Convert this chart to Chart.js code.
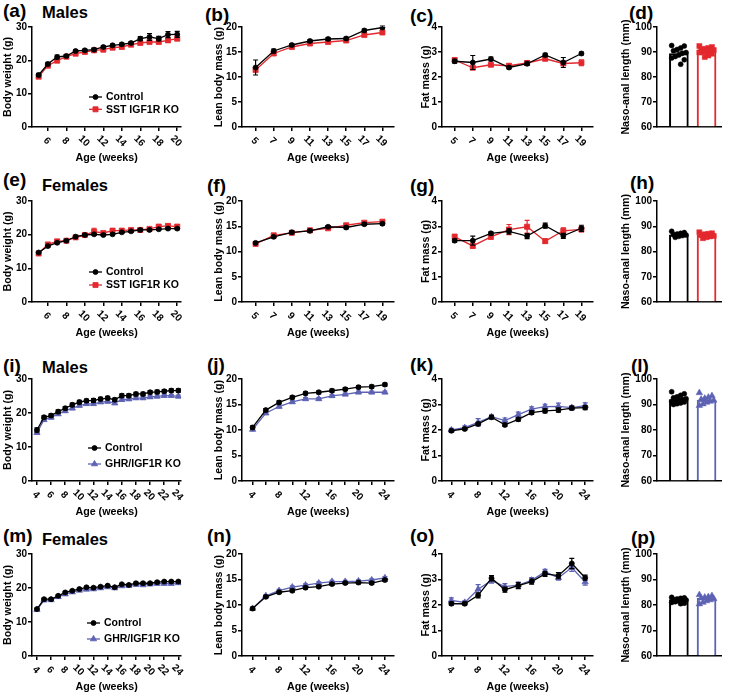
<!DOCTYPE html>
<html>
<head>
<meta charset="utf-8">
<script src="https://cdn.jsdelivr.net/npm/chart.js@4.4.1/dist/chart.umd.min.js"></script>
<style>
  body { margin: 0; background: #fff; width: 729px; height: 692px; position: relative; overflow: hidden;
         font-family: "Liberation Sans", Arial, sans-serif; }
  canvas { position: absolute; }
  .lbl { position: absolute; font-weight: bold; font-size: 19px; line-height: 1; color: #000; }
  .sex { position: absolute; font-weight: bold; font-size: 16.5px; line-height: 1; color: #000; }
</style>
</head>
<body>
<div class="lbl" style="left:3px;top:1px">(a)</div>
<div class="sex" style="left:42px;top:4px">Males</div>
<div class="lbl" style="left:205px;top:5px">(b)</div>
<div class="lbl" style="left:410px;top:6px">(c)</div>
<div class="lbl" style="left:629px;top:3px">(d)</div>

<div class="lbl" style="left:3px;top:170px">(e)</div>
<div class="sex" style="left:42px;top:177px">Females</div>
<div class="lbl" style="left:207px;top:176px">(f)</div>
<div class="lbl" style="left:410px;top:176px">(g)</div>
<div class="lbl" style="left:630px;top:173px">(h)</div>

<div class="lbl" style="left:3px;top:356px">(i)</div>
<div class="sex" style="left:42px;top:359px">Males</div>
<div class="lbl" style="left:207px;top:355px">(j)</div>
<div class="lbl" style="left:410px;top:355px">(k)</div>
<div class="lbl" style="left:631px;top:356px">(l)</div>

<div class="lbl" style="left:3px;top:526px">(m)</div>
<div class="sex" style="left:42px;top:531px">Females</div>
<div class="lbl" style="left:207px;top:526px">(n)</div>
<div class="lbl" style="left:410px;top:526px">(o)</div>
<div class="lbl" style="left:631px;top:528px">(p)</div>

<script>
// weeks
const wk1 = [5, 6, 7, 8, 9, 10, 11, 12, 13, 14, 15, 16, 17, 18, 19, 20];
const wkC1 = [5, 7, 9, 11, 13, 15, 17, 19];
const wk2 = [4, 5, 6, 7, 8, 9, 10, 11, 12, 13, 14, 15, 16, 17, 18, 19, 20, 21, 22, 23, 24];
const wkC2 = [4, 6, 8, 10, 12, 14, 16, 18, 20, 22, 24];

// (a) males body weight, SST IGF1R
const aCtrl = [15.6, 18.9, 21.0, 21.3, 22.8, 23.0, 23.2, 24.0, 24.5, 24.8, 25.2, 26.5, 27.0, 26.5, 27.7, 27.8];
const aKO = [15.1, 18.4, 19.9, 21.1, 22.0, 22.5, 23.0, 23.2, 23.8, 24.0, 24.7, 25.2, 25.5, 25.5, 26.0, 26.5];
const aCtrlSem = [0.5, 0.5, 0.6, 0.4, 0.4, 0.4, 0.4, 0.4, 0.4, 0.4, 0.4, 0.6, 1.0, 0.7, 0.9, 0.9];
const aKOSem = [0.4, 0.4, 0.4, 0.3, 0.3, 0.3, 0.3, 0.3, 0.3, 0.3, 0.3, 0.4, 0.4, 0.4, 0.5, 0.5];
// (b) lean
const bCtrl = [11.9, 15.2, 16.4, 17.2, 17.6, 17.7, 19.3, 19.9];
const bKO = [11.4, 14.7, 16.0, 16.7, 17.0, 17.3, 18.4, 18.9];
const bCtrlSem = [1.5, 0.4, 0.3, 0.3, 0.3, 0.3, 0.3, 0.3];
const bKOSem = [0.3, 0.3, 0.2, 0.2, 0.2, 0.2, 0.3, 0.3];
// (c) fat
const cCtrl = [2.63, 2.58, 2.72, 2.38, 2.53, 2.88, 2.58, 2.94];
const cKO = [2.68, 2.37, 2.49, 2.45, 2.56, 2.73, 2.54, 2.57];
const cCtrlSem = [0.08, 0.28, 0.08, 0.06, 0.07, 0.07, 0.2, 0.06];
const cKOSem = [0.07, 0.06, 0.06, 0.08, 0.1, 0.08, 0.08, 0.12];
// (d) naso-anal
const dCtrl = [92.6, 92.4, 91.6, 91.0, 90.5, 89.8, 89.5, 88.8, 88.2, 87.6, 86.9, 85.1];
const dKO = [92.4, 92.0, 91.6, 91.3, 91.0, 90.8, 90.6, 90.3, 90.0, 89.8, 89.3, 88.6, 88.0];
const dMean = [89.4, 90.7];
const dSem = [0.6, 0.4];

// (e) females body weight
const eCtrl = [14.7, 16.6, 17.6, 18.2, 19.4, 19.9, 20.1, 19.9, 20.1, 20.7, 21.0, 21.4, 21.4, 21.6, 21.8, 21.8];
const eKO = [14.4, 17.1, 18.0, 18.2, 19.2, 19.9, 20.9, 20.5, 21.2, 21.2, 21.4, 21.4, 21.7, 22.4, 22.6, 22.4];
const eCtrlSem = [0.3, 0.3, 0.3, 0.3, 0.3, 0.3, 0.3, 0.3, 0.3, 0.3, 0.3, 0.3, 0.3, 0.3, 0.3, 0.3];
const eKOSem = [0.3, 0.4, 0.5, 0.3, 0.3, 0.4, 1.0, 0.5, 0.6, 0.5, 0.4, 0.3, 0.4, 0.5, 0.5, 0.5];
// (f)
const fCtrl = [11.7, 12.9, 13.8, 14.1, 14.9, 14.75, 15.4, 15.5];
const fKO = [11.5, 13.2, 13.7, 14.2, 14.6, 15.2, 15.7, 15.9];
const fCtrlSem = [0.25, 0.25, 0.25, 0.25, 0.25, 0.25, 0.25, 0.25];
const fKOSem = [0.25, 0.3, 0.25, 0.25, 0.25, 0.25, 0.25, 0.25];
// (g)
const gCtrl = [2.43, 2.43, 2.72, 2.8, 2.61, 3.02, 2.62, 2.92];
const gKO = [2.58, 2.22, 2.58, 2.87, 2.98, 2.41, 2.82, 2.88];
const gCtrlSem = [0.06, 0.18, 0.06, 0.1, 0.1, 0.1, 0.1, 0.12];
const gKOSem = [0.1, 0.08, 0.08, 0.2, 0.25, 0.08, 0.12, 0.1];
// (h)
const hCtrl = [88.0, 87.5, 87.2, 86.9, 86.7, 86.5, 86.3, 86.0, 85.6];
const hKO = [87.6, 87.2, 87.0, 86.8, 86.5, 86.2, 86.0, 85.7, 85.3];
const hMean = [86.6, 86.5];
const hSem = [0.3, 0.3];

// (i) males body weight, GHR/IGF1R
const iCtrl = [15.0, 18.75, 19.25, 20.4, 21.4, 22.4, 23.2, 23.6, 23.7, 24.1, 24.4, 23.9, 25.1, 25.1, 25.6, 25.6, 26.1, 26.2, 26.4, 26.6, 26.6];
const iKO = [14.2, 18.0, 18.7, 19.7, 20.6, 21.4, 22.2, 22.7, 22.7, 23.2, 23.4, 22.9, 23.9, 24.1, 24.4, 24.4, 24.7, 24.9, 25.1, 25.1, 24.9];
const iCtrlSem = [0.6, 0.5, 0.5, 0.5, 0.5, 0.5, 0.5, 0.5, 0.5, 0.5, 0.5, 0.5, 0.5, 0.5, 0.5, 0.5, 0.5, 0.5, 0.5, 0.5, 0.5];
const iKOSem = [0.4, 0.4, 0.4, 0.4, 0.4, 0.4, 0.4, 0.4, 0.4, 0.4, 0.4, 0.4, 0.4, 0.4, 0.4, 0.4, 0.4, 0.4, 0.4, 0.4, 0.4];
// (j)
const jCtrl = [10.5, 13.9, 15.4, 16.4, 17.2, 17.4, 17.7, 18.0, 18.4, 18.5, 18.9];
const jKO = [10.1, 13.3, 14.6, 15.5, 16.1, 16.1, 16.7, 17.0, 17.4, 17.4, 17.4];
const jCtrlSem = [0.3, 0.3, 0.3, 0.3, 0.3, 0.3, 0.3, 0.3, 0.3, 0.3, 0.3];
const jKOSem = [0.25, 0.25, 0.25, 0.25, 0.25, 0.25, 0.25, 0.25, 0.25, 0.25, 0.25];
// (k)
const kCtrl = [1.97, 2.04, 2.24, 2.5, 2.2, 2.42, 2.68, 2.75, 2.78, 2.86, 2.88];
const kKO = [2.0, 2.09, 2.3, 2.52, 2.37, 2.6, 2.82, 2.92, 2.93, 2.88, 2.96];
const kCtrlSem = [0.05, 0.05, 0.06, 0.06, 0.06, 0.07, 0.07, 0.08, 0.08, 0.07, 0.08];
const kKOSem = [0.06, 0.07, 0.15, 0.07, 0.1, 0.1, 0.09, 0.09, 0.12, 0.08, 0.1];
// (l)
const lCtrl = [95.0, 94.2, 93.6, 93.0, 92.6, 92.3, 92.0, 91.8, 91.5, 91.2, 91.0, 90.6, 90.3, 90.0];
const lKO = [94.6, 93.4, 92.8, 92.4, 92.0, 91.6, 91.2, 90.8, 90.2, 89.6];
const lMean = [91.9, 91.7];
const lSem = [0.4, 0.5];

// (m) females body weight
const mCtrl = [13.8, 16.7, 16.7, 17.7, 18.7, 19.2, 19.7, 20.2, 20.1, 20.4, 20.7, 20.2, 21.1, 20.9, 21.4, 21.4, 21.4, 21.7, 21.9, 21.9, 21.9];
const mKO = [13.6, 16.4, 16.5, 17.4, 18.2, 18.8, 19.3, 19.6, 19.7, 20.0, 20.3, 20.0, 20.6, 20.7, 21.0, 20.9, 21.1, 21.3, 21.3, 21.3, 21.5];
const mCtrlSem = [0.3, 0.3, 0.3, 0.3, 0.3, 0.3, 0.3, 0.3, 0.3, 0.3, 0.3, 0.3, 0.3, 0.3, 0.3, 0.3, 0.3, 0.3, 0.3, 0.3, 0.3];
const mKOSem = [0.3, 0.3, 0.3, 0.3, 0.3, 0.3, 0.3, 0.3, 0.3, 0.3, 0.3, 0.3, 0.3, 0.3, 0.3, 0.3, 0.3, 0.3, 0.3, 0.3, 0.3];
// (n)
const nCtrl = [9.3, 11.6, 12.5, 12.8, 13.4, 13.6, 14.1, 14.3, 14.4, 14.3, 14.9];
const nKO = [9.3, 11.8, 12.8, 13.5, 13.9, 14.3, 14.6, 14.6, 14.7, 14.9, 15.3];
const nCtrlSem = [0.25, 0.25, 0.25, 0.25, 0.25, 0.25, 0.25, 0.25, 0.25, 0.25, 0.25];
const nKOSem = [0.25, 0.25, 0.25, 0.25, 0.25, 0.25, 0.25, 0.25, 0.25, 0.25, 0.25];
// (o)
const oCtrl = [2.05, 2.05, 2.38, 3.05, 2.6, 2.76, 2.92, 3.22, 3.15, 3.63, 3.07];
const oKO = [2.18, 2.1, 2.62, 2.96, 2.72, 2.78, 2.97, 3.3, 3.07, 3.47, 2.9];
const oCtrlSem = [0.06, 0.06, 0.1, 0.1, 0.1, 0.12, 0.1, 0.1, 0.12, 0.2, 0.1];
const oKOSem = [0.1, 0.06, 0.18, 0.1, 0.12, 0.12, 0.1, 0.1, 0.1, 0.15, 0.12];
// (p)
const pCtrl = [83.0, 82.8, 82.6, 82.4, 82.2, 82.0, 81.8, 81.6, 81.3, 81.0, 80.7, 80.5];
const pKO = [84.0, 83.6, 83.2, 83.0, 82.7, 82.4, 82.0, 81.6, 81.0, 80.4];
const pMean = [82.1, 82.6];
const pSem = [0.2, 0.3];

const xTicks1 = [6, 8, 10, 12, 14, 16, 18, 20];
const xTicksC1 = [5, 7, 9, 11, 13, 15, 17, 19];
const xTicks2 = [4, 6, 8, 10, 12, 14, 16, 18, 20, 22, 24];
const xLabelsC2 = [4, 8, 12, 16, 20, 24];

const FONT = '"Liberation Sans", Arial, sans-serif';
const RED = '#e3292e';
const BLUE = '#5d62b3';
const STY = {
  ctrl: { color: '#000', pointStyle: 'circle', radius: 2.5, dotR: 2.5 },
  sst: { color: RED, pointStyle: 'rect', radius: 3.6, dotR: 3.6 },
  ghr: { color: BLUE, pointStyle: 'triangle', radius: 3.6, dotR: 3.8 }
};

Chart.defaults.font.family = FONT;
Chart.defaults.font.weight = 'bold';
Chart.defaults.color = '#000';

// error bars (mean +/- sem) drawn from each dataset's sem array
const errBars = {
  id: 'errBars',
  afterDatasetDraw(chart, args) {
    const ds = chart.data.datasets[args.index];
    if (!ds.sem) return;
    const ctx = chart.ctx, ys = chart.scales.y;
    ctx.save();
    ctx.lineWidth = 1.2;
    args.meta.data.forEach((el, j) => {
      const v = ds.data[j].y, e = ds.sem[j];
      const top = ys.getPixelForValue(v + e), bot = ys.getPixelForValue(v - e);
      const cw = ds.capW || 2.5;
      ctx.strokeStyle = Array.isArray(ds.borderColor) ? ds.borderColor[j] : ds.borderColor;
      ctx.beginPath();
      ctx.moveTo(el.x, top); ctx.lineTo(el.x, bot);
      ctx.moveTo(el.x - cw, top); ctx.lineTo(el.x + cw, top);
      ctx.moveTo(el.x - cw, bot); ctx.lineTo(el.x + cw, bot);
      ctx.stroke();
    });
    ctx.restore();
  }
};

// x tick labels turned 45 degrees clockwise, like the original
const rotTicks = {
  id: 'rotTicks',
  afterDraw(chart, args, o) {
    if (!o.labels) return;
    const ctx = chart.ctx, s = chart.scales.x;
    ctx.save();
    ctx.font = 'bold 10px ' + FONT;
    ctx.fillStyle = '#000';
    ctx.textAlign = 'center';
    ctx.textBaseline = 'middle';
    o.labels.forEach(v => {
      ctx.save();
      ctx.translate(s.getPixelForValue(v) - 1, chart.chartArea.bottom + 14);
      ctx.rotate(Math.PI / 4);
      ctx.fillText(String(v), 0, 0);
      ctx.restore();
    });
    ctx.restore();
  }
};

// legend drawn inside the plot area
const inLegend = {
  id: 'inLegend',
  afterDraw(chart, args, o) {
    if (!o || o.x === undefined) return;
    const ctx = chart.ctx, a = chart.chartArea;
    chart.data.datasets.forEach((ds, i) => {
      const x = a.left + o.x, y = a.top + o.y + i * o.dy;
      ctx.save();
      ctx.strokeStyle = ds.borderColor;
      ctx.fillStyle = ds.borderColor;
      ctx.lineWidth = 1.3;
      ctx.beginPath(); ctx.moveTo(x, y); ctx.lineTo(x + 13, y); ctx.stroke();
      ctx.lineWidth = 0.8;
      Chart.helpers.drawPoint(ctx, { pointStyle: ds.pointStyle, radius: ds.pointRadius, rotation: 0, borderWidth: 0.8 }, x + 6.5, y);
      ctx.fillStyle = '#000';
      ctx.font = 'bold 10.5px ' + FONT;
      ctx.textAlign = 'left';
      ctx.textBaseline = 'middle';
      ctx.fillText(ds.label, x + 17, y + 0.5);
      ctx.restore();
    });
  }
};

function place(l, t, w, h) {
  const c = document.createElement('canvas');
  c.width = w; c.height = h;
  c.style.left = l + 'px';
  c.style.top = t + 'px';
  document.body.appendChild(c);
  return c;
}

const axisLine = { color: '#000', width: 1.5 };
const tickMarks = { drawOnChartArea: false, tickLength: 4, color: '#000', lineWidth: 1.5 };

function yAxis(title, min, max, step, wy, size) {
  return {
    min, max,
    ticks: { stepSize: step, font: { size: 10 }, padding: 1, color: '#000' },
    grid: tickMarks,
    border: axisLine,
    title: { display: true, text: title, font: { size: size || 10.7 }, padding: 0, color: '#000' },
    afterFit: s => { s.width = wy; }
  };
}

function linePanel(p) {
  const PT = 8, PR = 4, HX = 40;
  const c = place(p.l - p.wy, p.t - PT, p.wy + (p.r - p.l) + PR, PT + (p.b - p.t) + HX);
  new Chart(c, {
    type: 'line',
    data: {
      datasets: p.series.map(s => ({
        label: s.label,
        data: p.weeks.map((w, i) => ({ x: w, y: s.y[i] })),
        sem: s.sem,
        borderColor: s.sty.color,
        backgroundColor: s.sty.color,
        pointBackgroundColor: s.sty.color,
        pointBorderColor: s.sty.color,
        pointStyle: s.sty.pointStyle,
        pointRadius: s.sty.radius,
        pointBorderWidth: 0.8,
        borderWidth: 1.3,
        tension: 0
      }))
    },
    options: {
      responsive: false, animation: false, devicePixelRatio: 1,
      layout: { padding: { top: PT, right: PR, left: 0, bottom: 0 } },
      plugins: {
        legend: { display: false }, tooltip: { enabled: false },
        rotTicks: { labels: p.xLabels },
        inLegend: p.legend || false
      },
      scales: {
        x: {
          type: 'linear', min: p.xMin, max: p.xMax,
          afterBuildTicks: s => { s.ticks = p.xTicks.map(v => ({ value: v })); },
          ticks: { display: false },
          grid: tickMarks,
          border: axisLine,
          title: { display: true, text: 'Age (weeks)', font: { size: 10.7 }, padding: { top: 0, bottom: 3 }, color: '#000' },
          afterFit: s => { s.height = HX; }
        },
        y: yAxis(p.yTitle, p.yMin, p.yMax, p.yStep, p.wy)
      }
    },
    plugins: [errBars, rotTicks, inLegend]
  });
}

function barPanel(p) {
  const PT = 8, PR = 4, HX = 12;
  const c = place(p.l - p.wy, p.t - PT, p.wy + (p.r - p.l) + PR, PT + (p.b - p.t) + HX);
  const groups = [p.ctrl, p.ko];
  const dots = groups.map((g, gi) => ({
    type: 'scatter',
    data: g.vals.map((v, i) => ({ x: gi + 1 + (((i * 7) % 9) - 4) * 0.065, y: v })),
    pointStyle: g.sty.pointStyle,
    pointRadius: g.sty.dotR,
    backgroundColor: g.sty.color,
    borderColor: g.sty.color,
    pointBorderWidth: 0.5
  }));
  const bars = {
    type: 'bar',
    data: p.mean.map((m, i) => ({ x: i + 1, y: m })),
    sem: p.sem,
    capW: 4,
    backgroundColor: '#fff',
    borderColor: groups.map(g => g.sty.color),
    borderWidth: 2,
    barThickness: 19,
    base: 60,
    grouped: false
  };
  new Chart(c, {
    type: 'bar',
    data: { datasets: [...dots, bars] },
    options: {
      responsive: false, animation: false, devicePixelRatio: 1,
      layout: { padding: { top: PT, right: PR, left: 0, bottom: 0 } },
      plugins: { legend: { display: false }, tooltip: { enabled: false } },
      scales: {
        x: {
          type: 'linear', min: 0.21, max: 2.54, offset: false, bounds: 'ticks',
          ticks: { display: false },
          grid: { display: false, offset: false },
          border: axisLine,
          afterFit: s => { s.height = HX; }
        },
        y: yAxis('Naso-anal length (mm)', 60, 100, 10, p.wy)
      }
    },
    plugins: [errBars]
  });
}

const rows = [
  { t: 27, b: 127 },
  { t: 201, b: 302 },
  { t: 379, b: 481 },
  { t: 554, b: 656 }
];
const colBody = { l: 32, r: 182, wy: 30 };
const colLean = { l: 242, r: 395, wy: 29 };
const colFat = { l: 442, r: 594, wy: 22 };
const colNaso = { l: 657, r: 722, wy: 37 };

function ser(label, y, sem, sty) { return { label, y, sem, sty }; }

// row 1: SST IGF1R males
linePanel({ ...colBody, ...rows[0], weeks: wk1, xMin: 4.28, xMax: 20.43, xTicks: xTicks1, xLabels: xTicks1,
  yTitle: 'Body weight (g)', yMin: 0, yMax: 30, yStep: 10, legend: { x: 57, y: 70, dy: 12.3 },
  series: [ser('Control', aCtrl, aCtrlSem, STY.ctrl), ser('SST IGF1R KO', aKO, aKOSem, STY.sst)] });
linePanel({ ...colLean, ...rows[0], weeks: wkC1, xMin: 3.5, xMax: 20.3, xTicks: xTicksC1, xLabels: xTicksC1,
  yTitle: 'Lean body mass (g)', yMin: 0, yMax: 20, yStep: 5,
  series: [ser('Control', bCtrl, bCtrlSem, STY.ctrl), ser('SST IGF1R KO', bKO, bKOSem, STY.sst)] });
linePanel({ ...colFat, ...rows[0], weeks: wkC1, xMin: 3.6, xMax: 20.3, xTicks: xTicksC1, xLabels: xTicksC1,
  yTitle: 'Fat mass (g)', yMin: 0, yMax: 4, yStep: 1,
  series: [ser('Control', cCtrl, cCtrlSem, STY.ctrl), ser('SST IGF1R KO', cKO, cKOSem, STY.sst)] });
barPanel({ ...colNaso, ...rows[0], mean: dMean, sem: dSem,
  ctrl: { vals: dCtrl, sty: STY.ctrl }, ko: { vals: dKO, sty: STY.sst } });

// row 2: SST IGF1R females
linePanel({ ...colBody, ...rows[1], weeks: wk1, xMin: 4.28, xMax: 20.43, xTicks: xTicks1, xLabels: xTicks1,
  yTitle: 'Body weight (g)', yMin: 0, yMax: 30, yStep: 10, legend: { x: 57, y: 71, dy: 13 },
  series: [ser('Control', eCtrl, eCtrlSem, STY.ctrl), ser('SST IGF1R KO', eKO, eKOSem, STY.sst)] });
linePanel({ ...colLean, ...rows[1], weeks: wkC1, xMin: 3.5, xMax: 20.3, xTicks: xTicksC1, xLabels: xTicksC1,
  yTitle: 'Lean body mass (g)', yMin: 0, yMax: 20, yStep: 5,
  series: [ser('Control', fCtrl, fCtrlSem, STY.ctrl), ser('SST IGF1R KO', fKO, fKOSem, STY.sst)] });
linePanel({ ...colFat, ...rows[1], weeks: wkC1, xMin: 3.6, xMax: 20.3, xTicks: xTicksC1, xLabels: xTicksC1,
  yTitle: 'Fat mass (g)', yMin: 0, yMax: 4, yStep: 1,
  series: [ser('Control', gCtrl, gCtrlSem, STY.ctrl), ser('SST IGF1R KO', gKO, gKOSem, STY.sst)] });
barPanel({ ...colNaso, ...rows[1], mean: hMean, sem: hSem,
  ctrl: { vals: hCtrl, sty: STY.ctrl }, ko: { vals: hKO, sty: STY.sst } });

// row 3: GHR/IGF1R males
linePanel({ ...colBody, ...rows[2], weeks: wk2, xMin: 3.3, xMax: 24.4, xTicks: xTicks2, xLabels: xTicks2,
  yTitle: 'Body weight (g)', yMin: 0, yMax: 30, yStep: 10, legend: { x: 56, y: 69, dy: 16 },
  series: [ser('Control', iCtrl, iCtrlSem, STY.ctrl), ser('GHR/IGF1R KO', iKO, iKOSem, STY.ghr)] });
linePanel({ ...colLean, ...rows[2], weeks: wkC2, xMin: 2.4, xMax: 25.4, xTicks: xTicks2, xLabels: xLabelsC2,
  yTitle: 'Lean body mass (g)', yMin: 0, yMax: 20, yStep: 5,
  series: [ser('Control', jCtrl, jCtrlSem, STY.ctrl), ser('GHR/IGF1R KO', jKO, jKOSem, STY.ghr)] });
linePanel({ ...colFat, ...rows[2], weeks: wkC2, xMin: 2.6, xMax: 25.2, xTicks: xTicks2, xLabels: xLabelsC2,
  yTitle: 'Fat mass (g)', yMin: 0, yMax: 4, yStep: 1,
  series: [ser('Control', kCtrl, kCtrlSem, STY.ctrl), ser('GHR/IGF1R KO', kKO, kKOSem, STY.ghr)] });
barPanel({ ...colNaso, ...rows[2], mean: lMean, sem: lSem,
  ctrl: { vals: lCtrl, sty: STY.ctrl }, ko: { vals: lKO, sty: STY.ghr } });

// row 4: GHR/IGF1R females
linePanel({ ...colBody, ...rows[3], weeks: wk2, xMin: 3.3, xMax: 24.4, xTicks: xTicks2, xLabels: xTicks2,
  yTitle: 'Body weight (g)', yMin: 0, yMax: 30, yStep: 10, legend: { x: 55, y: 69, dy: 16 },
  series: [ser('Control', mCtrl, mCtrlSem, STY.ctrl), ser('GHR/IGF1R KO', mKO, mKOSem, STY.ghr)] });
linePanel({ ...colLean, ...rows[3], weeks: wkC2, xMin: 2.4, xMax: 25.4, xTicks: xTicks2, xLabels: xLabelsC2,
  yTitle: 'Lean body mass (g)', yMin: 0, yMax: 20, yStep: 5,
  series: [ser('Control', nCtrl, nCtrlSem, STY.ctrl), ser('GHR/IGF1R KO', nKO, nKOSem, STY.ghr)] });
linePanel({ ...colFat, ...rows[3], weeks: wkC2, xMin: 2.6, xMax: 25.2, xTicks: xTicks2, xLabels: xLabelsC2,
  yTitle: 'Fat mass (g)', yMin: 0, yMax: 4, yStep: 1,
  series: [ser('Control', oCtrl, oCtrlSem, STY.ctrl), ser('GHR/IGF1R KO', oKO, oKOSem, STY.ghr)] });
barPanel({ ...colNaso, ...rows[3], mean: pMean, sem: pSem,
  ctrl: { vals: pCtrl, sty: STY.ctrl }, ko: { vals: pKO, sty: STY.ghr } });
</script>
</body>
</html>
